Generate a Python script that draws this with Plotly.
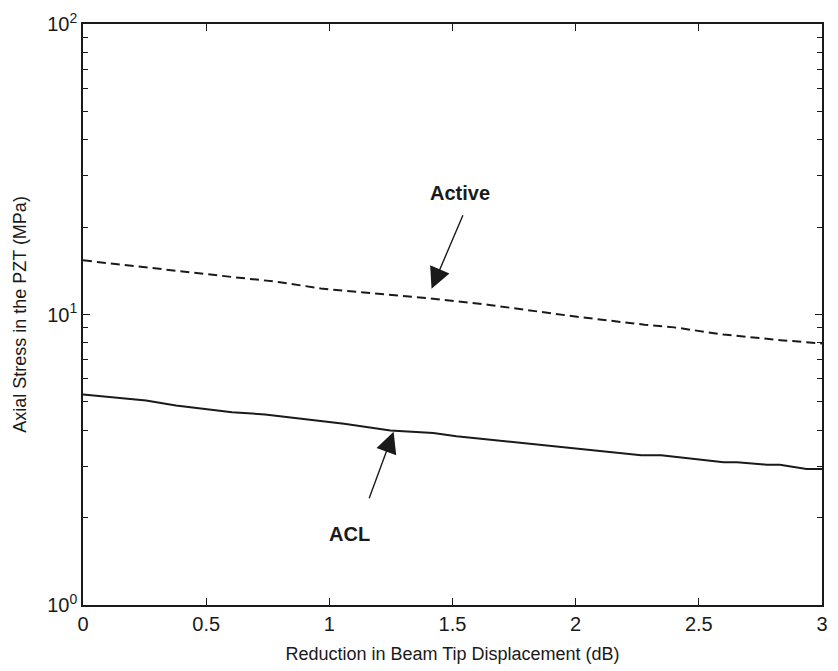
import plotly.graph_objects as go

# Data
active_x = [0.0, 0.162, 0.337, 0.603, 0.792, 0.965, 1.407, 1.649, 1.998, 2.280, 2.400, 2.601, 2.831, 2.976, 3.0]
active_y = [15.36, 14.83, 14.20, 13.47, 12.95, 12.29, 11.36, 10.79, 9.84, 9.22, 9.03, 8.53, 8.16, 7.95, 7.95]

acl_x = [0.0, 0.256, 0.377, 0.605, 0.739, 1.06, 1.248, 1.422, 1.516, 1.744, 1.851, 2.266, 2.347, 2.601, 2.655, 2.776, 2.829, 2.937, 3.0]
acl_y = [5.30, 5.06, 4.86, 4.61, 4.53, 4.21, 3.99, 3.91, 3.81, 3.64, 3.55, 3.28, 3.28, 3.10, 3.10, 3.04, 3.04, 2.94, 2.94]

x_ticks = [0, 0.5, 1, 1.5, 2, 2.5, 3]
x_ticktext = ["0", "0.5", "1", "1.5", "2", "2.5", "3"]
y_ticks = [1, 10, 100]
y_ticktext = ["10<sup>0</sup>", "10<sup>1</sup>", "10<sup>2</sup>"]
y_minor = [2, 3, 4, 5, 6, 7, 8, 9, 20, 30, 40, 50, 60, 70, 80, 90]

FONT = "Liberation Sans, Arial, sans-serif"
INK = "#1a1a1a"

fig = go.Figure()
fig.add_trace(go.Scatter(x=active_x, y=active_y, mode="lines",
                         line=dict(color=INK, width=2, dash="9px,5px"),
                         showlegend=False, hoverinfo="skip"))
fig.add_trace(go.Scatter(x=acl_x, y=acl_y, mode="lines",
                         line=dict(color=INK, width=2),
                         showlegend=False, hoverinfo="skip"))

# Labels (annotation y on a log axis is given as log10 of the value)
fig.add_annotation(x=1.532, y=1.417, text="<b>Active</b>",
                   showarrow=False, font=dict(family=FONT, size=20, color=INK))
fig.add_annotation(x=1.08, y=0.244, text="<b>ACL</b>",
                   showarrow=False, font=dict(family=FONT, size=20, color=INK))
# Arrows
fig.add_annotation(x=1.415, y=1.0885, text="", showarrow=True, ax=32, ay=-75,
                   arrowhead=2, arrowsize=3, arrowwidth=1.4, arrowcolor=INK)
fig.add_annotation(x=1.261, y=0.596, text="", showarrow=True, ax=-25, ay=68,
                   arrowhead=2, arrowsize=3, arrowwidth=1.4, arrowcolor=INK)

fig.update_layout(
    width=838, height=671,
    margin=dict(l=83, r=10, t=19, b=65),
    paper_bgcolor="white", plot_bgcolor="white",
    font=dict(family=FONT, size=18, color=INK),
    xaxis=dict(range=[0, 3], tickvals=x_ticks, ticktext=x_ticktext,
               ticks="inside", ticklen=7, tickwidth=1, tickcolor=INK,
               showline=True, linecolor=INK, linewidth=1.5, mirror="ticks",
               showgrid=False, zeroline=False,
               tickfont=dict(size=20, family=FONT, color=INK),
               title=dict(text="Reduction in Beam Tip Displacement (dB)",
                          font=dict(size=18, family=FONT, color=INK), standoff=14)),
    yaxis=dict(type="log", range=[0, 2], tickvals=y_ticks, ticktext=y_ticktext,
               ticks="inside", ticklen=7, tickwidth=1, tickcolor=INK,
               showline=True, linecolor=INK, linewidth=1.5, mirror="ticks",
               showgrid=False, zeroline=False,
               minor=dict(tickvals=y_minor, ticks="inside", ticklen=5, tickwidth=1, tickcolor=INK, showgrid=False),
               tickfont=dict(size=20, family=FONT, color=INK),
               title=dict(text="Axial Stress in the PZT (MPa)",
                          font=dict(size=18, family=FONT, color=INK), standoff=16)),
)

fig.write_html("out.html")
